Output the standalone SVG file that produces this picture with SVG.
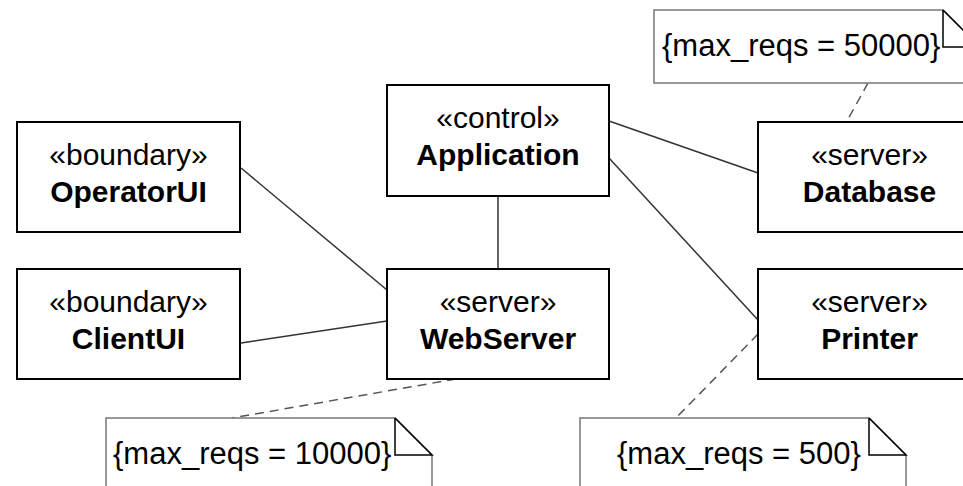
<svg xmlns="http://www.w3.org/2000/svg" width="963" height="486" viewBox="0 0 963 486">
<style>
.box{fill:#fff;stroke:#000;stroke-width:2}
.st{font-family:"Liberation Sans",Arial,sans-serif;font-size:30px;fill:#000;text-anchor:middle}
.nm{font-family:"Liberation Sans",Arial,sans-serif;font-size:30px;font-weight:bold;fill:#000;text-anchor:middle}
.note{fill:#fff;stroke:#777;stroke-width:1.5}
.fold{fill:none;stroke:#000;stroke-width:1.5}
.nt{font-family:"Liberation Sans",Arial,sans-serif;font-size:31px;fill:#000}
.ln{stroke:#333;stroke-width:1.5;fill:none}
.dash{stroke:#555;stroke-width:1.5;fill:none;stroke-dasharray:9 6}
</style>
<g id="connectors">
<line class="ln" x1="241" y1="168" x2="387" y2="290"/>
<line class="ln" x1="241" y1="343" x2="387" y2="321"/>
<line class="ln" x1="498" y1="196" x2="498" y2="269"/>
<line class="ln" x1="609" y1="121" x2="758" y2="173"/>
<line class="ln" x1="609" y1="158" x2="758" y2="320"/>
<line class="dash" x1="868" y1="83" x2="847" y2="121"/>
<line class="dash" x1="456" y1="379" x2="232" y2="418"/>
<line class="dash" x1="758" y1="334" x2="676" y2="418"/>
</g>
<g id="OperatorUI">
<rect class="box" x="17" y="122" width="223" height="110"/>
<text class="st" x="128.5" y="165">«boundary»</text>
<text class="nm" x="128.5" y="202">OperatorUI</text>
</g>
<g id="ClientUI">
<rect class="box" x="17" y="269" width="223" height="110"/>
<text class="st" x="128.5" y="312">«boundary»</text>
<text class="nm" x="128.5" y="349">ClientUI</text>
</g>
<g id="Application">
<rect class="box" x="387" y="85" width="222" height="111"/>
<text class="st" x="498" y="128">«control»</text>
<text class="nm" x="498" y="165">Application</text>
</g>
<g id="WebServer">
<rect class="box" x="387" y="269" width="222" height="110"/>
<text class="st" x="498" y="312">«server»</text>
<text class="nm" x="498" y="349">WebServer</text>
</g>
<g id="Database">
<rect class="box" x="758" y="122" width="223" height="110"/>
<text class="st" x="869.5" y="165">«server»</text>
<text class="nm" x="869.5" y="202">Database</text>
</g>
<g id="Printer">
<rect class="box" x="758" y="269" width="223" height="110"/>
<text class="st" x="869.5" y="312">«server»</text>
<text class="nm" x="869.5" y="349">Printer</text>
</g>
<g id="note-database">
<path class="note" d="M654,10 H943 L980,47 V83 H654 Z"/>
<path class="fold" d="M943,10 V47 H980 L943,10"/>
<text class="nt" x="662" y="56">{max_reqs = 50000}</text>
</g>
<g id="note-webserver">
<path class="note" d="M106,418 H395 L432,455 V495 H106 Z"/>
<path class="fold" d="M395,418 V455 H432 L395,418"/>
<text class="nt" x="113" y="464">{max_reqs = 10000}</text>
</g>
<g id="note-printer">
<path class="note" d="M580,418 H869 L906,455 V495 H580 Z"/>
<path class="fold" d="M869,418 V455 H906 L869,418"/>
<text class="nt" x="617" y="464">{max_reqs = 500}</text>
</g>
</svg>
